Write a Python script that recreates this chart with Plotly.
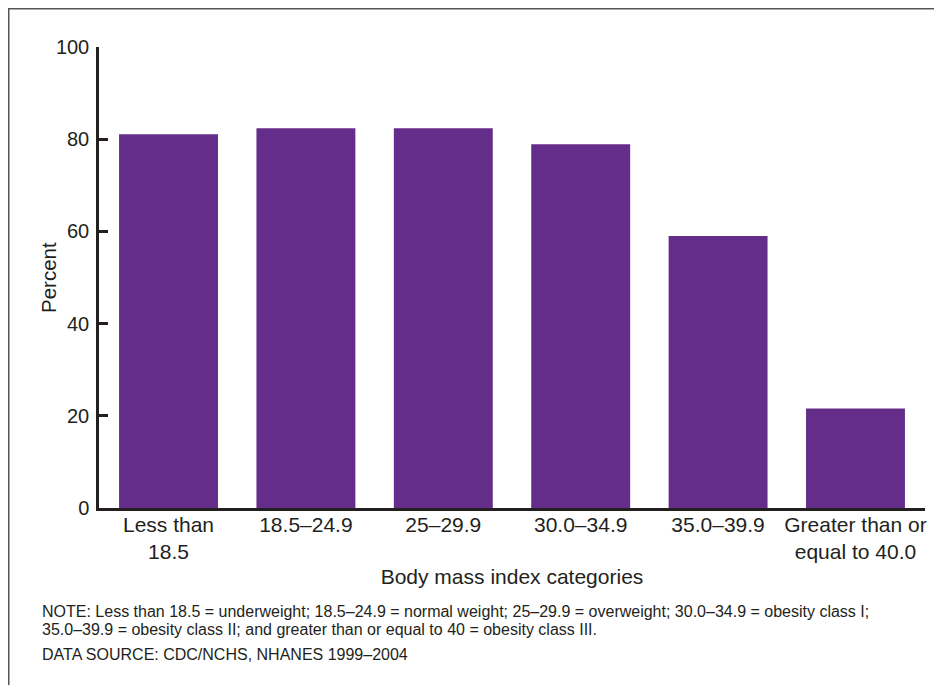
import plotly.graph_objects as go

categories = ["Less than<br>18.5", "18.5–24.9", "25–29.9", "30.0–34.9", "35.0–39.9",
              "Greater than or<br>equal to 40.0"]
percent = [81.1, 82.4, 82.4, 78.9, 59.0, 21.6]
y_ticks = [0, 20, 40, 60, 80, 100]

y_title = "Percent"
x_title = "Body mass index categories"
note_lines = [
    "NOTE: Less than 18.5 = underweight; 18.5–24.9 = normal weight; 25–29.9 = overweight; 30.0–34.9 = obesity class I;",
    "35.0–39.9 = obesity class II; and greater than or equal to 40 = obesity class III.",
]
source_line = "DATA SOURCE: CDC/NCHS, NHANES 1999–2004"

W, H = 942, 685
L, R, T, B = 91, 25, 39, 185
pw, ph = W - L - R, H - T - B

def px_x(x):
    return (x - L) / pw

def px_y(y):
    return (H - B - y) / ph

dark = "#231f20"
font = "Liberation Sans, Arial, Helvetica, sans-serif"

fig = go.Figure(go.Bar(
    x=categories, y=percent, marker_color="#652d8a", marker_line_width=0,
    width=0.72,
))

fig.update_layout(
    width=W, height=H,
    margin=dict(l=L, r=R, t=T, b=B),
    paper_bgcolor="white", plot_bgcolor="white",
    font=dict(family=font, color=dark, size=20),
    showlegend=False,
    bargap=0.28,
)
fig.update_xaxes(
    range=[-0.506, 5.506], showgrid=False, zeroline=False,
    showline=True, linecolor=dark, linewidth=2.5, ticks="",
    tickfont=dict(size=21), ticklabelstandoff=-4,
    title=dict(text=x_title, font=dict(size=21), standoff=8),
)
fig.update_yaxes(
    range=[0, 100], tickvals=y_ticks, showgrid=False, zeroline=False,
    showline=True, linecolor=dark, linewidth=2.5,
    ticks="inside", ticklen=9, tickwidth=2.5, tickcolor=dark,
    tickfont=dict(size=20), ticklabelstandoff=3,
)

# y-axis title placed close to the tick labels
fig.add_annotation(text=y_title, textangle=-90, xref="paper", yref="paper",
                   x=px_x(40), y=px_y(270), xanchor="center", yanchor="middle",
                   showarrow=False, font=dict(size=20.5, color=dark))

# outer border (left and top edges visible; extends past the page on right/bottom)
fig.add_shape(type="rect", xref="paper", yref="paper",
              x0=px_x(0.75), x1=px_x(W + 20), y0=px_y(H + 20), y1=px_y(0.75),
              line=dict(color="#555555", width=1.5), fillcolor="rgba(0,0,0,0)")

for txt, yp in zip(note_lines + [source_line], [603, 621, 646]):
    fig.add_annotation(text=txt, xref="paper", yref="paper",
                       x=px_x(32), y=px_y(yp), xanchor="left", yanchor="middle",
                       showarrow=False, font=dict(size=16, color=dark))

fig.write_html("out.html")
